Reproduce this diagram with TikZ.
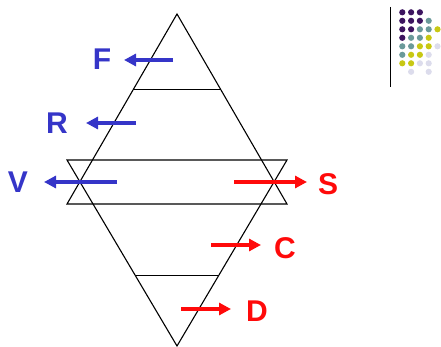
\documentclass[tikz,border=0pt]{standalone}
\usepackage{fontspec}
\setmainfont{Liberation Sans}
\usetikzlibrary{arrows.meta,calc}
\definecolor{arrblue}{HTML}{3535C8}
\definecolor{arrred}{HTML}{FF0A0A}
\definecolor{dpurple}{HTML}{3C145F}
\definecolor{dteal}{HTML}{6A9A9A}
\definecolor{dyellow}{HTML}{C8C814}
\definecolor{dlav}{HTML}{DCDCEC}
\tikzset{
  edge/.style={draw=black,line width=1.1pt,line join=miter},
  force/.style={line width=4pt,-{Triangle[length=12pt,width=12pt]}},
  lbl/.style={font=\fontsize{30}{30}\selectfont\bfseries,inner sep=0pt},
  dot/.style={circle,inner sep=0pt,minimum size=6.2pt}
}
\def\nodot{N}
\begin{document}
\begin{tikzpicture}[x=1pt,y=-1pt]
\useasboundingbox (0,0) rectangle (441,347);
% triangles
\coordinate (top) at (177,14);
\coordinate (bot) at (177,346);
\coordinate (ubl) at (67,204);
\coordinate (ubr) at (287,204);
\coordinate (ltl) at (67,160);
\coordinate (ltr) at (287,160);
\draw[edge] (top) -- (ubl) -- (ubr) -- cycle;
\draw[edge] (bot) -- (ltl) -- (ltr) -- cycle;
\coordinate (h1l) at ($(top)!75/190!(ubl)$);
\coordinate (h1r) at ($(top)!75/190!(ubr)$);
\coordinate (h2l) at ($(bot)!71/186!(ltl)$);
\coordinate (h2r) at ($(bot)!71/186!(ltr)$);
\draw[edge,line width=0.9pt] (h1l) -- (h1r);
\draw[edge,line width=0.9pt] (h2l) -- (h2r);
% labels
\node[lbl,text=arrblue] (F) at (102,59) {F};
\node[lbl,text=arrblue] (R) at (57,123) {R};
\node[lbl,text=arrblue] (V) at (18,182) {V};
\node[lbl,text=arrred] (S) at (328,184) {S};
\node[lbl,text=arrred] (C) at (285,248) {C};
\node[lbl,text=arrred] (D) at (257,311) {D};
% arrows
\coordinate (fa) at (173,60); \coordinate (fb) at (124,60);
\coordinate (ra) at (136,123); \coordinate (rb) at (86,123);
\coordinate (va) at (117,182); \coordinate (vb) at (44,182);
\coordinate (sa) at (234,182); \coordinate (sb) at (307,182);
\coordinate (ca) at (211,245); \coordinate (cb) at (261,245);
\coordinate (da) at (181,309); \coordinate (db) at (231,309);
\draw[force,arrblue] (fa) -- (fb);
\draw[force,arrblue] (ra) -- (rb);
\draw[force,arrblue] (va) -- (vb);
\draw[force,arrred] (sa) -- (sb);
\draw[force,arrred] (ca) -- (cb);
\draw[force,arrred] (da) -- (db);
% decoration
\coordinate (vl1) at (390,7);
\coordinate (vl2) at (390,87);
\draw[black,line width=1pt] (vl1) -- (vl2);
\foreach \r/\row in {0/{dpurple,dpurple,dpurple,N,N},1/{dpurple,dpurple,dpurple,dteal,N},2/{dpurple,dpurple,dteal,dteal,dyellow},3/{dpurple,dteal,dteal,dyellow,N},4/{dteal,dteal,dyellow,dyellow,dlav},5/{dteal,dyellow,dyellow,dlav,N},6/{dyellow,dyellow,dlav,dlav,N},7/{N,dlav,N,dlav,N}}{
  \foreach \c [count=\i from 0] in \row {
    \ifx\c\nodot\else
      \node[dot,fill=\c] (d\r\i) at (402.3+8.8*\i,12.3+8.5*\r) {};
    \fi
  }
}
\end{tikzpicture}
\end{document}
